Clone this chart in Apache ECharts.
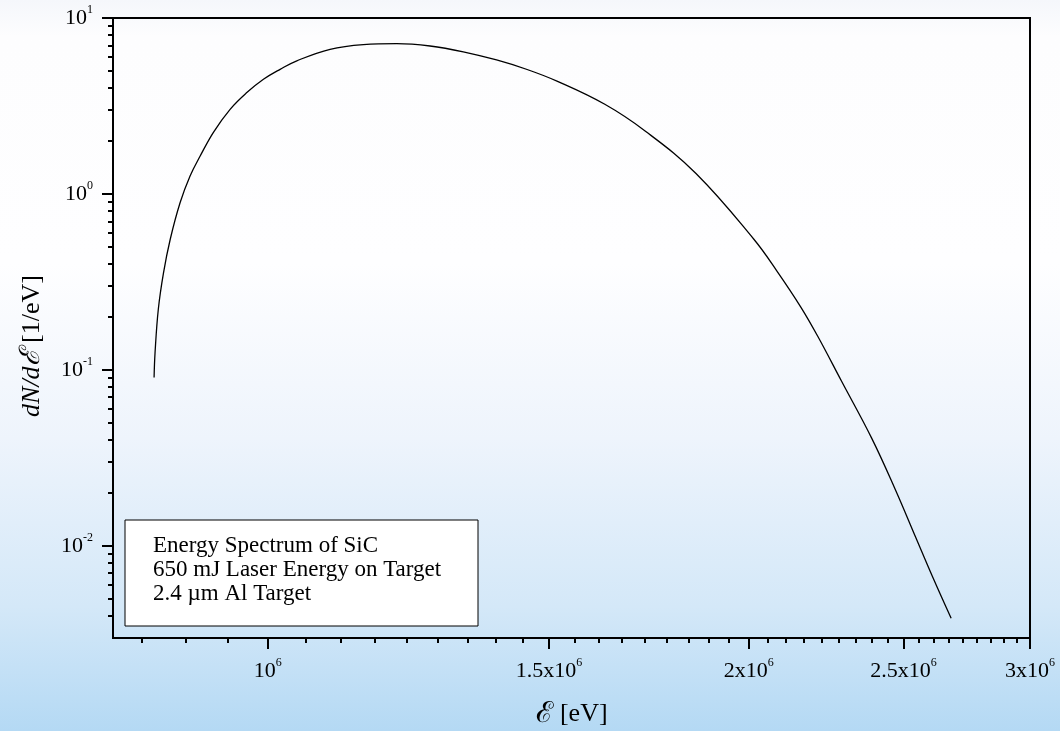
<!DOCTYPE html>
<html>
<head>
<meta charset="utf-8">
<script src="https://cdn.jsdelivr.net/npm/echarts@6/dist/echarts.min.js"></script>
<style>
  html, body { margin: 0; padding: 0; }
  body {
    width: 1060px; height: 731px; overflow: hidden;
    background: linear-gradient(to bottom, #f5f7fb 0%, #fdfdfe 5%, #fefeff 36%, #eef4fc 60%, #d4e8f8 83%, #b4d9f4 100%);
  }
  #chart { width: 1060px; height: 731px; }
</style>
</head>
<body>
<div id="chart"></div>
<script>
// Energy spectrum of SiC ions: energy in eV, dN/dE in 1/eV
const energyEV = [
  8.488e5, 8.500e5, 8.540e5, 8.603e5, 8.688e5, 8.813e5, 8.940e5,
  9.071e5, 9.246e5, 9.471e5, 9.702e5, 9.937e5, 1.0179e6, 1.0427e6, 1.0939e6,
  1.1477e6, 1.2043e6, 1.2635e6, 1.3255e6, 1.3906e6, 1.4532e6, 1.5183e6,
  1.6254e6, 1.7234e6, 1.8537e6, 2.0138e6, 2.0836e6, 2.1565e6, 2.2093e6,
  2.2861e6, 2.3882e6, 2.4709e6, 2.5442e6, 2.6069e6, 2.6777e6
];
const dNdE = [
  0.0906, 0.1256, 0.2213, 0.354, 0.553, 0.894, 1.266,
  1.643, 2.242, 3.028, 3.768, 4.484, 5.110, 5.712, 6.640,
  7.063, 7.156, 6.934, 6.427, 5.773, 5.097, 4.364,
  3.233, 2.274, 1.308, 0.5565, 0.3637, 0.2271, 0.1554,
  0.0865, 0.04088, 0.02086, 0.01120, 0.00668, 0.00388
];

// Axis ticks
const xMajorTicks = [1e6, 1.5e6, 2e6, 2.5e6, 3e6];
const xTickMantissa = ['', '1.5', '2', '2.5', '3'];
const xMinorPerMajor = 8;
const yMajorTicks = [0.01, 0.1, 1, 10];
const yMinorMultipliers = [2, 3, 4, 5, 6, 7, 8, 9];

const legendLines = [
  'Energy Spectrum of SiC',
  '650 mJ Laser Energy on Target',
  '2.4 µm Al Target'
];

const X_MIN = 8e5, X_MAX = 3e6, Y_MIN = 0.003, Y_MAX = 10;

// minor ticks: linear subdivisions between majors (and below the first major)
const xStep = (xMajorTicks[1] - xMajorTicks[0]) / (xMinorPerMajor + 1);
const xMinorTicks = [];
for (let v = xMajorTicks[0] - xStep; v > X_MIN; v -= xStep) xMinorTicks.push(v);
for (let i = 0; i < xMajorTicks.length - 1; i++) {
  for (let k = 1; k <= xMinorPerMajor; k++) xMinorTicks.push(xMajorTicks[i] + k * xStep);
}
const yMinorTicks = [];
[0.001, 0.01, 0.1, 1].forEach(d => yMinorMultipliers.forEach(m => {
  const v = +(d * m).toPrecision(3);
  if (v > Y_MIN && v < Y_MAX) yMinorTicks.push(v);
}));

const FONT = '"Liberation Serif", "Times New Roman", serif';
const tickRich = {
  b: { fontFamily: FONT, fontSize: 22, lineHeight: 28, color: '#000' },
  e: { fontFamily: FONT, fontSize: 12, lineHeight: 12, color: '#000', verticalAlign: 'top' }
};

const chart = echarts.init(document.getElementById('chart'), null, { renderer: 'canvas' });

const commonX = { type: 'log', min: X_MIN, max: X_MAX, position: 'bottom', splitLine: { show: false } };
const commonY = { type: 'log', min: Y_MIN, max: Y_MAX, position: 'left', splitLine: { show: false } };

chart.setOption({
  backgroundColor: 'transparent',
  animation: false,
  grid: {
    left: 113, right: 30, top: 18, bottom: 93,
    show: true, borderColor: '#000', borderWidth: 2, backgroundColor: 'transparent',
    outerBoundsMode: 'none'
  },
  xAxis: [
    Object.assign({}, commonX, {
      axisLine: { show: true, lineStyle: { color: '#000', width: 2 } },
      axisTick: { show: true, inside: false, length: 11, lineStyle: { color: '#000', width: 2 }, customValues: xMajorTicks },
      axisLabel: {
        show: true, margin: 19, customValues: xMajorTicks,
        formatter: v => {
          const i = xMajorTicks.findIndex(t => Math.abs(t - v) / t < 1e-6);
          const m = i >= 0 ? xTickMantissa[i] : '';
          return '{b|' + (m ? m + 'x10' : '10') + '}{e|6}';
        },
        rich: tickRich
      }
    }),
    Object.assign({}, commonX, {
      axisLine: { show: false },
      axisTick: { show: true, inside: false, length: 5, lineStyle: { color: '#000', width: 2 }, customValues: xMinorTicks },
      axisLabel: { show: false }
    })
  ],
  yAxis: [
    Object.assign({}, commonY, {
      axisLine: { show: true, lineStyle: { color: '#000', width: 2 } },
      axisTick: { show: true, inside: false, length: 11, lineStyle: { color: '#000', width: 2 }, customValues: yMajorTicks },
      axisLabel: {
        show: true, margin: 20, customValues: yMajorTicks,
        formatter: v => '{b|10}{e|' + Math.round(Math.log10(v)) + '}',
        rich: tickRich
      }
    }),
    Object.assign({}, commonY, {
      axisLine: { show: false },
      axisTick: { show: true, inside: false, length: 5, lineStyle: { color: '#000', width: 2 }, customValues: yMinorTicks },
      axisLabel: { show: false }
    })
  ],
  series: [{
    type: 'line',
    xAxisIndex: 0,
    yAxisIndex: 0,
    data: energyEV.map((e, i) => [e, dNdE[i]]),
    showSymbol: false,
    smooth: 0.4,
    lineStyle: { color: '#000', width: 1.3 },
    silent: true
  }],
  graphic: [
    // axis titles
    {
      type: 'text', x: 32, y: 346, rotation: Math.PI / 2,
      style: {
        text: '{i|dN/d}{s|ℰ}{r| [1/eV]}', align: 'center', verticalAlign: 'middle',
        rich: {
          i: { fontFamily: FONT, fontStyle: 'italic', fontSize: 26, fill: '#000' },
          s: { fontFamily: FONT, fontStyle: 'italic', fontSize: 28, fill: '#000' },
          r: { fontFamily: FONT, fontSize: 26, fill: '#000' }
        }
      }
    },
    {
      type: 'text', x: 572, y: 714,
      style: {
        text: '{s|ℰ}{r| [eV]}', align: 'center', verticalAlign: 'middle',
        rich: {
          s: { fontFamily: FONT, fontSize: 29, fill: '#000' },
          r: { fontFamily: FONT, fontSize: 26, fill: '#000' }
        }
      }
    },
    // annotation box
    {
      type: 'group',
      x: 125, y: 520,
      children: [
        { type: 'rect', shape: { x: 0, y: 0, width: 353, height: 106 },
          style: { fill: '#fff', stroke: '#000', lineWidth: 1 } },
        ...legendLines.map((t, i) => ({
          type: 'text', x: 28, y: 26 + i * 24,
          style: { text: t, font: '23px ' + FONT, fill: '#000', verticalAlign: 'middle', align: 'left' }
        }))
      ]
    }
  ]
});
</script>
</body>
</html>
